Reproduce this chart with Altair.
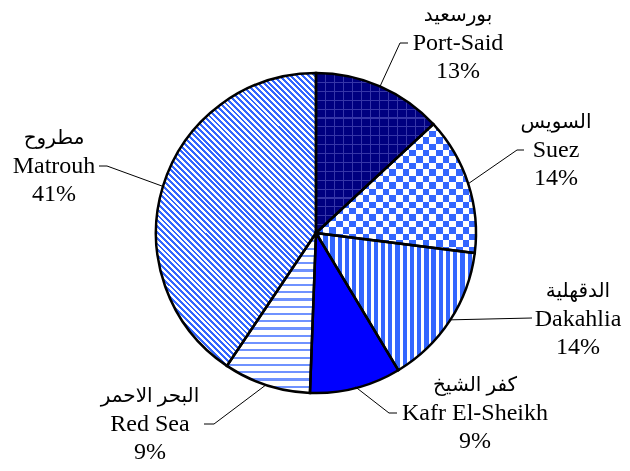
import math
import altair as alt
import pandas as pd

# ---- data ----
regions_en = ["Port-Said", "Suez", "Dakahlia", "Kafr El-Sheikh", "Red Sea", "Matrouh"]
regions_ar = ["بورسعيد", "السويس", "الدقهلية", "كفر الشيخ", "البحر الاحمر", "مطروح"]
values = [13.1, 13.9, 14.4, 9.2, 8.8, 40.6]

# ---- layout (view pixels) ----
W, H = 614, 455
CX, CY, R = 308, 225, 160
lab_x = [450, 548, 570, 467, 142, 46]
lab_y = [35, 142, 311, 405, 416, 158]
elbow_x = [392, 509, 524, 381, 206, 99]
elbow_y = [35, 142, 310, 405, 416, 158]
end_x = [400, 516, 524, 389, 196, 91]

df = pd.DataFrame({"region": regions_en, "arabic": regions_ar,
                   "value": values, "order": list(range(len(values)))})

# leader lines
cum = 0.0
rows = []
for i, v in enumerate(values):
    mid = 2 * math.pi * (cum + v / 2) / 100.0
    cum += v
    px = CX + (R - 1) * math.sin(mid)
    py = CY - (R - 1) * math.cos(mid)
    rows.append({"x": px, "y": py, "x2": elbow_x[i], "y2": elbow_y[i]})
    rows.append({"x": elbow_x[i], "y": elbow_y[i], "x2": end_x[i], "y2": elbow_y[i]})
leaders = pd.DataFrame(rows)

labels = pd.DataFrame({
    "lx": lab_x,
    "y_ar": [y - 28 for y in lab_y],
    "y_en": lab_y,
    "y_pc": [y + 28 for y in lab_y],
    "arabic": regions_ar,
    "english": regions_en,
    "pct": [f"{round(v)}%" for v in values],
})


def stripes(n, c1, c2, frac, **coords):
    stops = []
    for i in range(n):
        a, b, c = i / n, (i + frac) / n, (i + 1) / n
        stops += [alt.GradientStop(offset=a, color=c1), alt.GradientStop(offset=b, color=c1),
                  alt.GradientStop(offset=b, color=c2), alt.GradientStop(offset=c, color=c2)]
    return alt.LinearGradient(gradient="linear", stops=stops, **coords)


HORIZ = dict(x1=0, y1=0, x2=1, y2=0)   # vertical stripes
VERT = dict(x1=0, y1=0, x2=0, y2=1)    # horizontal stripes

BLUE = "#3366ff"
NAVY = "#000080"

base = alt.Chart(df).transform_stack(
    stack="value", groupby=[], as_=["t0", "t1"], sort=[alt.SortField("order")]
)
theta_enc = dict(
    theta=alt.Theta("t0:Q", stack=None, scale=alt.Scale(domain=[0, 100])),
    theta2="t1:Q",
    x=alt.value(CX),
    y=alt.value(CY),
)


def piece(name, fill, blend=None):
    kw = dict(radius=R, fill=fill, strokeWidth=0)
    if blend:
        kw["blend"] = blend
    return base.transform_filter(alt.datum.region == name).mark_arc(**kw).encode(**theta_enc)


# Matrouh diagonal stripes ("\\\")
mw, mh = 160.0, 293.0
k = (mw + mh) / (mw * mw + mh * mh)
DIAG = dict(x1=0, y1=1, x2=k * mw, y2=1 - k * mh)

layers = [
    # Port-Said: navy with light lattice
    piece("Port-Said", NAVY),
    piece("Port-Said", stripes(18, "#3636a8", NAVY, 0.13, **VERT)),
    piece("Port-Said", stripes(13, "#3636a8", NAVY, 0.13, **HORIZ), blend="lighten"),
    # Suez: checkerboard
    piece("Suez", stripes(10, "#000000", "#ffffff", 0.5, **VERT)),
    piece("Suez", stripes(12, "#000000", "#ffffff", 0.5, **HORIZ), blend="difference"),
    piece("Suez", BLUE, blend="screen"),
    # Dakahlia: vertical stripes
    piece("Dakahlia", stripes(22, BLUE, "#ffffff", 0.6, **HORIZ)),
    # Kafr El-Sheikh: solid blue
    piece("Kafr El-Sheikh", "#0000ff"),
    # Red Sea: thin wavy-ish lines
    piece("Red Sea", stripes(22, "#6f92ff", "#ffffff", 0.3, **VERT)),
    # Matrouh: diagonal stripes
    piece("Matrouh", stripes(78, BLUE, "#ffffff", 0.5, **DIAG)),
]

outline = base.mark_arc(radius=R, fillOpacity=0, stroke="black", strokeWidth=2.5).encode(**theta_enc)

lead = alt.Chart(leaders).mark_rule(color="black", strokeWidth=1).encode(
    x=alt.X("x:Q", scale=None), y=alt.Y("y:Q", scale=None),
    x2="x2:Q", y2="y2:Q",
)

txt_kw = dict(font="Liberation Serif", fontSize=24, align="center", baseline="middle", color="black")
t_en = alt.Chart(labels).mark_text(**txt_kw).encode(
    x=alt.X("lx:Q", scale=None), y=alt.Y("y_en:Q", scale=None), text="english:N")
t_pc = alt.Chart(labels).mark_text(**txt_kw).encode(
    x=alt.X("lx:Q", scale=None), y=alt.Y("y_pc:Q", scale=None), text="pct:N")
t_ar = alt.Chart(labels).mark_text(font="Liberation Serif, DejaVu Sans", fontSize=20,
                                   align="center", baseline="middle", color="black").encode(
    x=alt.X("lx:Q", scale=None), y=alt.Y("y_ar:Q", scale=None), text="arabic:N")

chart = alt.layer(*layers, outline, lead, t_en, t_pc, t_ar).properties(
    width=W, height=H, padding=0, autosize=alt.AutoSizeParams(type="none"),
    background="white",
).configure_view(strokeWidth=0)

chart.save("out.html", embed_options={"renderer": "svg", "actions": False})
